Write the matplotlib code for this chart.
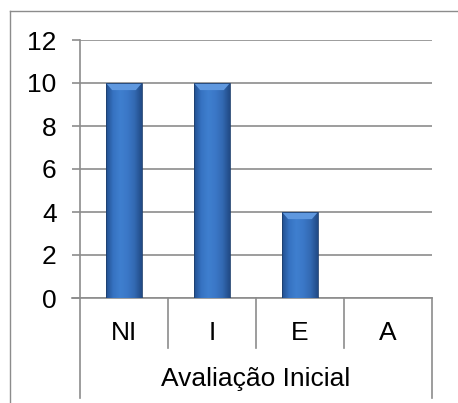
import numpy as np
import matplotlib.pyplot as plt
from matplotlib.colors import LinearSegmentedColormap
from matplotlib.lines import Line2D
from matplotlib.patches import Polygon

categories = ["NI", "I", "E", "A"]
counts = [10, 10, 4, 0]
group_label = "Avaliação Inicial"
y_ticks = [0, 2, 4, 6, 8, 10, 12]

plt.rcParams["font.family"] = ["Liberation Sans", "DejaVu Sans"]

W, H = 458, 403
LINE = "#8c8c8c"
FS = 19

fig = plt.figure(figsize=(W / 100, H / 100), dpi=100)
ax = fig.add_axes([80 / W, 1 - 298 / H, 352 / W, 258 / H])

x = np.arange(len(categories)) + 0.5
bw = 36 / 88
bars = ax.bar(x, counts, width=bw, color="none", edgecolor="none", zorder=3)

# horizontal shading across each bar, darker at the sides
cmap = LinearSegmentedColormap.from_list(
    "bar", ["#224f8e", "#3673c2", "#3f7fcf", "#3b78c7", "#3369b2", "#214a85"])
grad = np.linspace(0, 1, 128)[None, :]
for bar, h in zip(bars, counts):
    if h <= 0:
        continue
    x0 = bar.get_x()
    x1 = x0 + bar.get_width()
    im = ax.imshow(grad, cmap=cmap, extent=[x0, x1, 0, h], aspect="auto",
                   interpolation="bicubic", zorder=3)
    im.set_clip_path(bar)
    # bevelled top
    dx, dy = 0.07, 0.33
    ax.add_patch(Polygon([(x0, h), (x1, h), (x1 - dx, h - dy), (x0 + dx, h - dy)],
                         closed=True, facecolor="#5f98df", edgecolor="none", zorder=4))
    ax.add_patch(Polygon([(x0, 0), (x1, 0), (x1, h), (x0, h)], closed=True,
                         facecolor="none", edgecolor="#1e3f6e", lw=0.6, zorder=5))

ax.set_xlim(0, 4)
ax.set_ylim(0, 12)
ax.set_yticks(y_ticks)
ax.set_xticks([])

ax.set_axisbelow(True)
ax.yaxis.grid(True, color=LINE, lw=1.2)
ax.tick_params(axis="y", length=5.8, width=1.2, color=LINE, pad=11, labelsize=FS)
for side in ["top", "right", "bottom"]:
    ax.spines[side].set_visible(False)
ax.spines["left"].set_color(LINE)
ax.spines["left"].set_linewidth(1.2)

# category table under the plot area
xt = ax.get_xaxis_transform()
ax.plot([-8 / 352 * 4, 4], [0, 0], transform=xt, color=LINE, lw=1.2, clip_on=False)
for i in range(1, len(categories)):
    ax.plot([i, i], [0, -50 / 258], transform=xt, color=LINE, lw=1.2, clip_on=False)
for i in [0, len(categories)]:
    ax.plot([i, i], [0, -100 / 258], transform=xt, color=LINE, lw=1.2, clip_on=False)
for xi, cat in zip(x, categories):
    ax.text(xi, -35 / 258, cat, transform=xt, ha="center", va="center", fontsize=FS)
ax.text(2, -81 / 258, group_label, transform=xt, ha="center", va="center", fontsize=FS)

# chart frame
fig.add_artist(Line2D([9.5 / W, 9.5 / W], [0, 1 - 10.5 / H], transform=fig.transFigure,
                      color=LINE, lw=1.0))
fig.add_artist(Line2D([9.5 / W, 1], [1 - 10.5 / H, 1 - 10.5 / H], transform=fig.transFigure,
                      color=LINE, lw=1.0))

fig.savefig("out.png", dpi=100)
